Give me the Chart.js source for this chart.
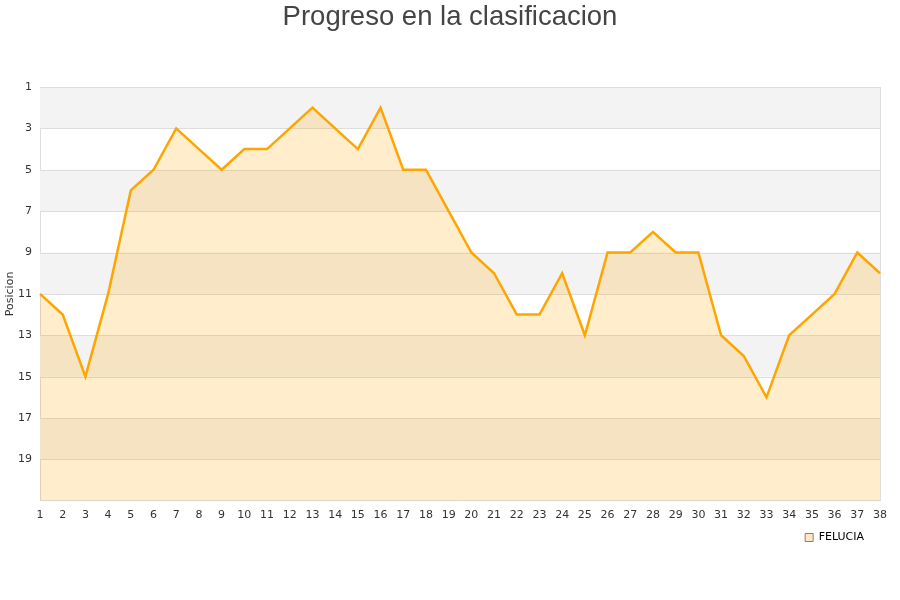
<!DOCTYPE html>
<html>
<head>
<meta charset="utf-8">
<script src="https://cdn.jsdelivr.net/npm/chart.js@4/dist/chart.umd.min.js"></script>
<style>
  body { margin: 0; background: #fff; }
  #wrap { width: 900px; height: 600px; }
</style>
</head>
<body>
<div id="wrap"><canvas id="chart" width="900" height="600"></canvas></div>
<script>
// datos de la grafica
const jornadas = [];
for (let i = 1; i <= 38; i++) jornadas.push(String(i));
const posiciones = [11, 12, 15, 11, 6, 5, 3, 4, 5, 4, 4, 3, 2, 3, 4, 2, 5, 5, 7, 9,
                    10, 12, 12, 10, 13, 9, 9, 8, 9, 9, 13, 14, 16, 13, 12, 11, 9, 10];
const equipo = 'FELUCIA';
const titulo = 'Progreso en la clasificacion';

// bandas grises alternas detras de la serie
const bandas = {
    id: 'bandas',
    afterLayout(chart) {
        // la leyenda queda un poco mas a la izquierda, el titulo centrado en el lienzo
        chart.legend.right -= 14;
        chart.titleBlock.left = 0;
        chart.titleBlock.right = chart.width;
    },
    beforeDatasetsDraw(chart) {
        const { ctx, chartArea } = chart;
        const y = chart.scales.y;
        ctx.save();
        ctx.fillStyle = '#f3f3f3';
        for (let v = 1; v < 21; v += 4) {
            const top = y.getPixelForValue(v);
            const bot = y.getPixelForValue(v + 2);
            ctx.fillRect(chartArea.left, top, chartArea.right - chartArea.left, bot - top);
        }
        // lineas de la cuadricula encima de las bandas
        ctx.strokeStyle = '#dddddd';
        ctx.lineWidth = 1;
        for (let v = 1; v <= 19; v += 2) {
            const p = Math.round(y.getPixelForValue(v)) + 0.5;
            ctx.beginPath();
            ctx.moveTo(chartArea.left, p);
            ctx.lineTo(chartArea.right, p);
            ctx.stroke();
        }
        ctx.beginPath();
        ctx.moveTo(Math.round(chartArea.right) + 0.5, chartArea.top);
        ctx.lineTo(Math.round(chartArea.right) + 0.5, chartArea.bottom);
        ctx.stroke();
        ctx.restore();
    }
};

const ctx = document.getElementById('chart').getContext('2d');
new Chart(ctx, {
    type: 'line',
    data: {
        labels: jornadas,
        datasets: [{
            label: equipo,
            data: posiciones,
            borderColor: '#ffa500',
            backgroundColor: 'rgba(255,165,0,0.2)',
            borderWidth: 2.5,
            pointRadius: 0,
            tension: 0,
            fill: 'start'
        }]
    },
    options: {
        responsive: false,
        animation: false,
        layout: { padding: { left: 4, right: 20, top: 1, bottom: 47 } },
        plugins: {
            title: {
                display: true,
                text: titulo,
                color: '#444444',
                font: { family: 'Liberation Sans', size: 27.5, weight: 'normal' },
                padding: { top: 0, bottom: 53 }
            },
            legend: {
                position: 'bottom',
                align: 'end',
                labels: {
                    boxWidth: 8,
                    boxHeight: 8,
                    padding: 2,
                    color: '#000',
                    font: { family: 'DejaVu Sans', size: 11 },
                    generateLabels(chart) {
                        return chart.data.datasets.map((d, i) => ({
                            text: d.label,
                            fillStyle: '#fde9c4',
                            strokeStyle: '#8a7f6a',
                            lineWidth: 1,
                            datasetIndex: i
                        }));
                    }
                }
            },
            tooltip: { enabled: false }
        },
        scales: {
            x: {
                offset: false,
                grid: { display: false, drawTicks: false },
                border: { display: true, color: '#dddddd' },
                ticks: {
                    color: '#333',
                    font: { family: 'DejaVu Sans', size: 11 },
                    padding: 8,
                    maxRotation: 0,
                    autoSkip: false
                }
            },
            y: {
                reverse: true,
                min: 1,
                max: 21,
                afterFit(scale) { scale.width = 36; },
                grid: { display: false, drawTicks: false },
                border: { display: true, color: '#dddddd' },
                ticks: {
                    stepSize: 2,
                    color: '#333',
                    font: { family: 'DejaVu Sans', size: 11 },
                    padding: 8,
                    callback: (v) => (v === 21 ? '' : v)
                },
                title: {
                    display: true,
                    text: 'Posicion',
                    color: '#333',
                    font: { family: 'DejaVu Sans', size: 11 },
                    padding: 0
                }
            }
        }
    },
    plugins: [bandas]
});
</script>
</body>
</html>
